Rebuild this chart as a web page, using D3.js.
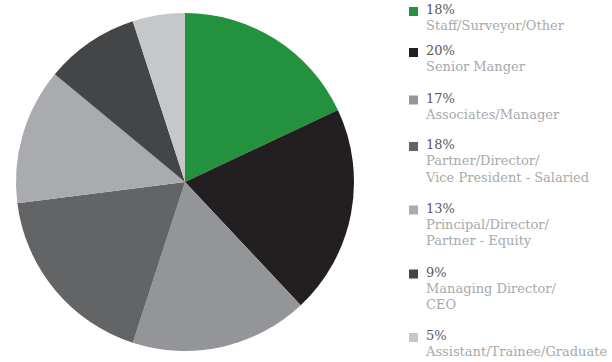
<!DOCTYPE html>
<html>
<head>
<meta charset="utf-8">
<script src="https://cdn.jsdelivr.net/npm/d3@7"></script>
<style>
  html, body { margin: 0; padding: 0; background: #fff; }
  svg { display: block; }
  .pct { font-family: "DejaVu Serif", serif; font-size: 13px; fill: #58595b; }
  .lbl { font-family: "DejaVu Serif", serif; font-size: 13px; fill: #a7a9ac; }
</style>
</head>
<body>
<svg id="chart" width="612" height="362"></svg>
<script>
// Share of respondents by job level
const categories = [
  ["Staff/Surveyor/Other"],
  ["Senior Manger"],
  ["Associates/Manager"],
  ["Partner/Director/", "Vice President - Salaried"],
  ["Principal/Director/", "Partner - Equity"],
  ["Managing Director/", "CEO"],
  ["Assistant/Trainee/Graduate"]
];
const values = [18, 20, 17, 18, 13, 9, 5];
const colors = ["#24913f", "#231f20", "#939598", "#636466", "#a9abae", "#444547", "#c6c7c9"];

const svg = d3.select("#chart");
const cx = 185, cy = 182, radius = 169;

const pie = d3.pie().sort(null).value(d => d);
const arc = d3.arc().innerRadius(0).outerRadius(radius);

svg.append("g")
  .attr("transform", `translate(${cx},${cy})`)
  .selectAll("path")
  .data(pie(values))
  .join("path")
  .attr("d", arc)
  .attr("fill", (d, i) => colors[i]);

// Legend: swatch + percentage, then the label lines in a lighter grey
const legend = svg.append("g");
const lineStep = 16.3;
const rowTops = [14, 55, 102.5, 149, 212.5, 276.5, 340];  // baseline of each entry's first line
categories.forEach((lines, i) => {
  const y = rowTops[i];
  const g = legend.append("g");
  g.append("rect")
    .attr("x", 409).attr("y", y - 7)
    .attr("width", 9).attr("height", 9)
    .attr("fill", colors[i]);
  g.append("text").attr("class", "pct")
    .attr("x", 426).attr("y", y)
    .text(values[i] + "%");
  lines.forEach((t, j) => {
    g.append("text").attr("class", "lbl")
      .attr("x", 426).attr("y", y + lineStep * (j + 1))
      .text(t);
  });
});
</script>
</body>
</html>
